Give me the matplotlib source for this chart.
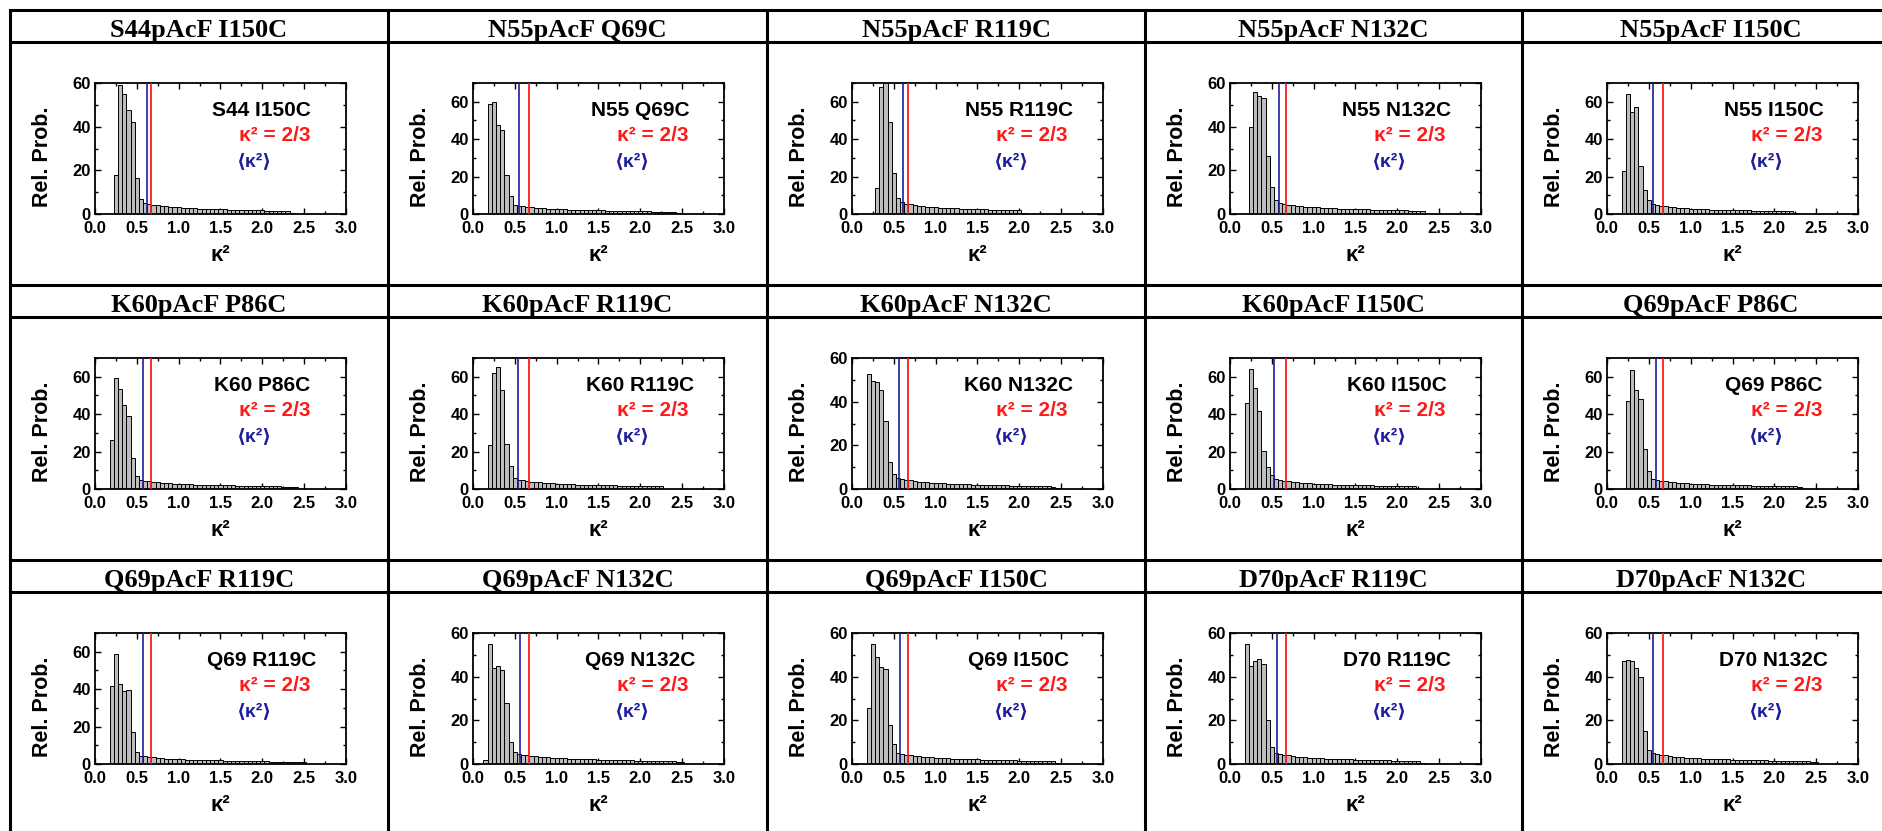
import matplotlib
matplotlib.use("Agg")
import matplotlib.pyplot as plt
from matplotlib.lines import Line2D
from matplotlib.ticker import MultipleLocator, FormatStrFormatter
import numpy as np

# ---- data -------------------------------------------------------------
titles = ["S44pAcF I150C", "N55pAcF Q69C", "N55pAcF R119C", "N55pAcF N132C", "N55pAcF I150C",
          "K60pAcF P86C", "K60pAcF R119C", "K60pAcF N132C", "K60pAcF I150C", "Q69pAcF P86C",
          "Q69pAcF R119C", "Q69pAcF N132C", "Q69pAcF I150C", "D70pAcF R119C", "D70pAcF N132C"]
labels = ["S44 I150C", "N55 Q69C", "N55 R119C", "N55 N132C", "N55 I150C",
          "K60 P86C", "K60 R119C", "K60 N132C", "K60 I150C", "Q69 P86C",
          "Q69 R119C", "Q69 N132C", "Q69 I150C", "D70 R119C", "D70 N132C"]
ymax = [60, 70, 70, 60, 70,
        70, 70, 60, 70, 70,
        70, 60, 60, 60, 60]
k2_mean = [0.62, 0.55, 0.61, 0.59, 0.55,
           0.57, 0.54, 0.56, 0.53, 0.58,
           0.57, 0.56, 0.57, 0.56, 0.55]
# centre of the first histogram bin (bins are 0.05 wide)
first_bin = [0.25, 0.20, 0.30, 0.25, 0.20,
             0.20, 0.20, 0.20, 0.20, 0.25,
             0.20, 0.15, 0.20, 0.20, 0.20]
bin_w = 0.05

hist = [
    # S44 I150C
    [18, 59, 55, 47.5, 42, 16.5, 7, 5,
     4.6, 4.3, 4.0, 3.7, 3.5, 3.3, 3.1, 3.0, 2.9, 2.8, 2.7, 2.6, 2.5, 2.4, 2.35, 2.3, 2.2,
     2.15, 2.1, 2.05, 2.0, 1.95, 1.9, 1.85, 1.8, 1.75, 1.7, 1.65, 1.6, 1.55, 1.5, 1.45, 1.4, 1.35, 0.4],
    # N55 Q69C
    [59, 60, 47.5, 45, 21, 9.5, 5, 4.5,
     4.2, 3.9, 3.6, 3.4, 3.2, 3.0, 2.9, 2.8, 2.7, 2.6, 2.5, 2.4, 2.3, 2.25, 2.2, 2.1, 2.05,
     2.0, 1.95, 1.9, 1.85, 1.8, 1.75, 1.7, 1.65, 1.6, 1.55, 1.5, 1.45, 1.4, 1.35, 1.3, 1.25,
     1.2, 1.15, 1.1, 1.05, 0.3],
    # N55 R119C
    [14, 68, 72, 49, 22, 8.5, 6.5, 5.5,
     5.1, 4.8, 4.5, 4.2, 4.0, 3.8, 3.6, 3.4, 3.3, 3.2, 3.1, 3.0, 2.9, 2.8, 2.7, 2.65, 2.6,
     2.5, 2.45, 2.4, 2.35, 2.3, 2.25, 2.2, 2.15, 2.1, 2.05, 0.6],
    # N55 N132C
    [40, 56, 54, 53, 26.5, 12.5, 6.5, 5,
     4.6, 4.3, 4.0, 3.8, 3.6, 3.4, 3.2, 3.1, 3.0, 2.9, 2.8, 2.7, 2.6, 2.5, 2.45, 2.4, 2.3,
     2.25, 2.2, 2.15, 2.1, 2.05, 2.0, 1.95, 1.9, 1.85, 1.8, 1.75, 1.7, 1.65, 1.6, 1.55, 1.5, 1.45],
    # N55 I150C
    [23, 64, 54.5, 57, 25.5, 13, 7.5, 5.3,
     4.8, 4.4, 4.1, 3.8, 3.6, 3.4, 3.2, 3.0, 2.9, 2.8, 2.7, 2.6, 2.5, 2.4, 2.35, 2.3, 2.2,
     2.15, 2.1, 2.05, 2.0, 1.95, 1.9, 1.85, 1.8, 1.75, 1.7, 1.65, 1.6, 1.55, 1.5, 1.45, 1.4, 0.5],
    # K60 P86C
    [26, 59.5, 53.5, 45, 39, 16.5, 7, 5,
     4.5, 4.2, 3.9, 3.6, 3.4, 3.2, 3.0, 2.9, 2.8, 2.7, 2.6, 2.5, 2.4, 2.35, 2.3, 2.2, 2.15,
     2.1, 2.05, 2.0, 1.95, 1.9, 1.85, 1.8, 1.75, 1.7, 1.65, 1.6, 1.55, 1.5, 1.45, 1.4, 1.35,
     1.3, 1.25, 1.2, 1.15],
    # K60 R119C
    [23.5, 62, 65, 53, 24, 12.5, 5.7, 5,
     4.6, 4.3, 4.0, 3.7, 3.5, 3.3, 3.1, 3.0, 2.9, 2.8, 2.7, 2.6, 2.5, 2.4, 2.35, 2.3, 2.2,
     2.15, 2.1, 2.05, 2.0, 1.95, 1.9, 1.85, 1.8, 1.75, 1.7, 1.65, 1.6, 1.55, 1.5, 1.45, 1.4, 1.35],
    # K60 N132C
    [52.5, 49.5, 49, 45.5, 31, 12.5, 7, 5,
     4.5, 4.2, 3.9, 3.6, 3.4, 3.2, 3.0, 2.9, 2.8, 2.7, 2.6, 2.5, 2.4, 2.3, 2.25, 2.2, 2.1,
     2.05, 2.0, 1.95, 1.9, 1.85, 1.8, 1.75, 1.7, 1.65, 1.6, 1.55, 1.5, 1.45, 1.4, 1.35, 1.3,
     1.25, 1.2, 1.15, 1.1, 0.5],
    # K60 I150C
    [46, 64, 54, 41.5, 20.5, 12, 7.5, 5.5,
     4.8, 4.4, 4.1, 3.8, 3.6, 3.4, 3.2, 3.0, 2.9, 2.8, 2.7, 2.6, 2.5, 2.4, 2.35, 2.3, 2.2,
     2.15, 2.1, 2.05, 2.0, 1.95, 1.9, 1.85, 1.8, 1.75, 1.7, 1.65, 1.6, 1.55, 1.5, 1.45, 1.4, 0.6],
    # Q69 P86C
    [47, 63.5, 53, 48, 21.5, 9.5, 5.5,
     4.8, 4.4, 4.1, 3.8, 3.6, 3.4, 3.2, 3.0, 2.9, 2.8, 2.7, 2.6, 2.5, 2.4, 2.35, 2.3, 2.2,
     2.15, 2.1, 2.05, 2.0, 1.95, 1.9, 1.85, 1.8, 1.75, 1.7, 1.65, 1.6, 1.55, 1.5, 1.45, 1.4,
     1.35, 1.3],
    # Q69 R119C
    [41.5, 59, 43, 39, 39.5, 17, 6.5, 4.5,
     4.1, 3.8, 3.5, 3.3, 3.1, 2.9, 2.8, 2.7, 2.6, 2.5, 2.4, 2.3, 2.2, 2.15, 2.1, 2.05, 2.0,
     1.95, 1.9, 1.85, 1.8, 1.75, 1.7, 1.65, 1.6, 1.55, 1.5, 1.45, 1.4, 1.35, 1.3, 1.25, 1.2,
     1.2, 1.15, 1.1, 1.1, 1.05, 1.0],
    # Q69 N132C
    [2, 55, 44, 45, 43, 28, 10, 5.5,
     4.6, 4.3, 4.0, 3.7, 3.5, 3.3, 3.1, 3.0, 2.9, 2.8, 2.7, 2.6, 2.5, 2.4, 2.35, 2.3, 2.2,
     2.15, 2.1, 2.05, 2.0, 1.95, 1.9, 1.85, 1.8, 1.75, 1.7, 1.65, 1.6, 1.55, 1.5, 1.45, 1.4,
     1.35, 1.3, 1.25, 1.2, 1.15, 1.1, 1.05],
    # Q69 I150C
    [25.5, 55, 49, 44.5, 43.5, 18, 9, 5.2,
     4.5, 4.2, 3.9, 3.7, 3.5, 3.3, 3.1, 3.0, 2.9, 2.8, 2.7, 2.6, 2.5, 2.4, 2.35, 2.3, 2.2,
     2.15, 2.1, 2.05, 2.0, 1.95, 1.9, 1.85, 1.8, 1.75, 1.7, 1.65, 1.6, 1.55, 1.5, 1.45, 1.4,
     1.35, 1.3, 1.25, 1.2, 0.6],
    # D70 R119C
    [55, 45, 47, 48, 46, 20, 8, 5,
     4.5, 4.2, 3.9, 3.6, 3.4, 3.2, 3.0, 2.9, 2.8, 2.7, 2.6, 2.5, 2.4, 2.35, 2.3, 2.2, 2.15,
     2.1, 2.05, 2.0, 1.95, 1.9, 1.85, 1.8, 1.75, 1.7, 1.65, 1.6, 1.55, 1.5, 1.45, 1.4, 1.35, 1.3, 0.5],
    # D70 N132C
    [47, 47.5, 47, 44, 40, 15, 6.5, 5,
     4.5, 4.2, 3.9, 3.6, 3.4, 3.2, 3.0, 2.9, 2.8, 2.7, 2.6, 2.5, 2.4, 2.35, 2.3, 2.2, 2.15,
     2.1, 2.05, 2.0, 1.95, 1.9, 1.85, 1.8, 1.75, 1.7, 1.65, 1.6, 1.55, 1.5, 1.45, 1.4, 1.35,
     1.3, 1.25, 1.2, 1.15, 1.1, 1.05],
]

# ---- layout (pixels) --------------------------------------------------
W, H = 1883, 831
col_x = [10, 388, 767, 1145, 1522, 1900]
row_y = [10, 285, 560, 835]
head_h = 32
ax_dx, ax_dy, ax_w, ax_h = 85, 73, 251, 131

sans = ["Liberation Sans", "DejaVu Sans"]
plt.rcParams["font.family"] = sans
plt.rcParams["font.weight"] = "bold"

fig = plt.figure(figsize=(W / 100, H / 100), dpi=100)


def fx(px):
    return px / W


def fy(py):
    return 1 - py / H


# table grid
for x in col_x:
    fig.add_artist(Line2D([fx(x), fx(x)], [fy(row_y[0]), fy(row_y[-1])], color="k", lw=2.2))
for y in row_y:
    fig.add_artist(Line2D([fx(col_x[0]), fx(col_x[-1])], [fy(y), fy(y)], color="k", lw=2.2))
for y in row_y[:-1]:
    fig.add_artist(Line2D([fx(col_x[0]), fx(col_x[-1])], [fy(y + head_h), fy(y + head_h)],
                          color="k", lw=2.2))

for i in range(15):
    r, c = divmod(i, 5)
    x0, y0 = col_x[c], row_y[r]
    x1 = col_x[c + 1]

    fig.text(fx((x0 + x1) / 2), fy(y0 + 26.5), titles[i], ha="center", va="baseline",
             family="Liberation Serif", fontweight="bold", fontsize=19)

    ax = fig.add_axes([fx(x0 + ax_dx), fy(y0 + ax_dy + ax_h), ax_w / W, ax_h / H])
    heights = np.array(hist[i])
    centers = first_bin[i] + bin_w * np.arange(len(heights))
    ax.bar(centers, heights, width=bin_w, color="#bdbdbd", edgecolor="k", linewidth=0.7,
           zorder=2)
    ax.axvline(k2_mean[i], color="#1c1c9c", lw=1.2, zorder=3)
    ax.axvline(2 / 3, color="#ff1a1a", lw=1.3, zorder=3)

    ax.set_xlim(0, 3.0)
    ax.set_ylim(0, ymax[i])
    ax.xaxis.set_major_locator(MultipleLocator(0.5))
    ax.xaxis.set_minor_locator(MultipleLocator(0.25))
    ax.xaxis.set_major_formatter(FormatStrFormatter("%.1f"))
    ax.yaxis.set_major_locator(MultipleLocator(20))
    ax.yaxis.set_minor_locator(MultipleLocator(10))
    ax.tick_params(which="both", direction="in", top=True, right=True, width=1.0,
                   labelsize=12)
    ax.tick_params(axis="y", pad=3)
    ax.tick_params(axis="x", pad=5)
    ax.tick_params(which="major", length=4)
    ax.tick_params(which="minor", length=2)
    for lab in ax.get_xticklabels() + ax.get_yticklabels():
        lab.set_fontweight("bold")
    for sp in ax.spines.values():
        sp.set_linewidth(1.3)

    ax.set_ylabel("Rel. Prob.", fontsize=15.5, fontweight="bold")
    ax.yaxis.set_label_coords(-42 / ax_w, 0.44)
    ax.set_xlabel("κ²", fontsize=16, fontweight="bold")
    ax.xaxis.set_label_coords(0.5, -31 / ax_h)

    ax.text(0.665, 0.79, labels[i], transform=ax.transAxes, ha="center", va="center",
            fontsize=15, fontweight="bold", color="k")
    ax.text(0.715, 0.60, "κ² = 2/3", transform=ax.transAxes, ha="center", va="center",
            fontsize=15, fontweight="bold", color="#ff1a1a")
    ax.text(0.635, 0.40, "⟨κ²⟩", transform=ax.transAxes, ha="center", va="center",
            fontsize=14, fontweight="bold", color="#1c1c9c")

fig.savefig("out.png", dpi=100)
